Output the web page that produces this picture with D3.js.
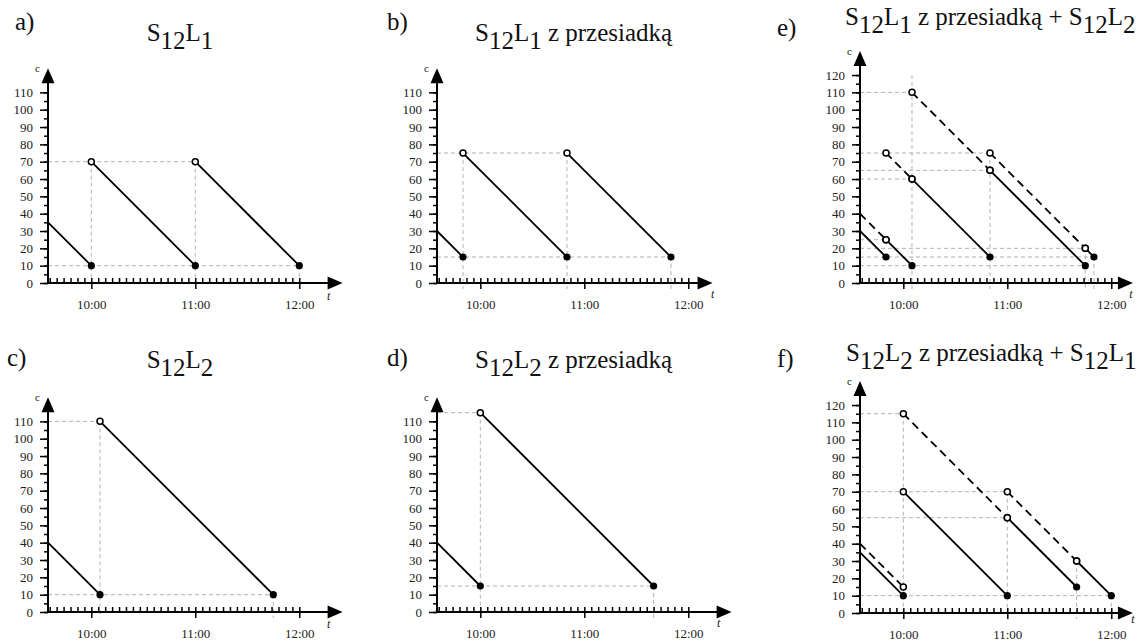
<!DOCTYPE html>
<html>
<head>
<meta charset="utf-8">
<script src="https://cdn.jsdelivr.net/npm/d3@7"></script>
<style>
  html, body { margin: 0; padding: 0; background: #fff; }
  svg { display: block; }
  text { font-family: "Liberation Serif", "Times New Roman", serif; }
</style>
</head>
<body>
<svg id="chart" width="1140" height="643"></svg>
<script>
// time in minutes relative to 10:00, cost c
const hourTicks = [0, 60, 120];
const hourLabels = ['10:00', '11:00', '12:00'];

// segments: [t0, c0, t1, c1]
const solidA = [[-25, 35, 0, 10], [0, 70, 60, 10], [60, 70, 120, 10]];
const solidB = [[-25, 30, -10, 15], [-10, 75, 50, 15], [50, 75, 110, 15]];
const solidC = [[-25, 40, 5, 10], [5, 110, 105, 10]];
const solidD = [[-25, 40, 0, 15], [0, 115, 100, 15]];
const solidE = [[-25, 30, -10, 15], [-10, 25, 5, 10], [5, 60, 50, 15], [50, 65, 105, 10], [105, 20, 110, 15]];
const dashedE = [[-25, 40, -10, 25], [-10, 75, 5, 60], [5, 110, 50, 65], [50, 75, 105, 20]];
const solidF = [[-25, 35, 0, 10], [0, 70, 60, 10], [60, 55, 100, 15], [100, 30, 120, 10]];
const dashedF = [[-25, 40, 0, 15], [0, 115, 60, 55], [60, 70, 100, 30]];

// guide lines: horizontal [c, t right end], vertical [t, c top]
const hGuideA = [[70, 60], [10, 120]];
const vGuideA = [[0, 70], [60, 70], [120, 10]];
const hGuideB = [[75, 50], [15, 110]];
const vGuideB = [[-10, 75], [50, 75], [110, 15]];
const hGuideC = [[110, 5], [10, 105]];
const vGuideC = [[5, 110], [105, 10]];
const hGuideD = [[115, 0], [15, 100]];
const vGuideD = [[0, 115], [100, 15]];
const hGuideE = [[110, 5], [75, 50], [65, 50], [60, 5], [25, -10], [20, 105], [15, 110], [10, 105]];
const vGuideE = [[5, 120], [50, 75], [105, 20], [110, 15]];
const hGuideF = [[115, 0], [70, 60], [55, 60], [10, 120]];
const vGuideF = [[0, 115], [60, 70], [100, 30], [120, 10]];

// titles: [text, subscript?]
const titleA = [['S', 0], ['12', 1], ['L', 0], ['1', 1]];
const titleB = [['S', 0], ['12', 1], ['L', 0], ['1', 1], [' z przesiadką', 0]];
const titleC = [['S', 0], ['12', 1], ['L', 0], ['2', 1]];
const titleD = [['S', 0], ['12', 1], ['L', 0], ['2', 1], [' z przesiadką', 0]];
const titleE = [['S', 0], ['12', 1], ['L', 0], ['1', 1], [' z przesiadką + ', 0], ['S', 0], ['12', 1], ['L', 0], ['2', 1]];
const titleF = [['S', 0], ['12', 1], ['L', 0], ['2', 1], [' z przesiadką + ', 0], ['S', 0], ['12', 1], ['L', 0], ['1', 1]];

const K = 1.733; // px per minute and per unit of c

const panels = [
  { tag: 'a)', ox: 48, oy: 283, yMax: 110, xEnd: 145, solid: solidA, dashed: [], hg: hGuideA, vg: vGuideA,
    title: titleA, tx: 180, ty: 41, anchor: 'middle', lx: 15, ly: 30, tdx: -14, tdy: 17 },
  { tag: 'b)', ox: 437, oy: 283, yMax: 110, xEnd: 134, solid: solidB, dashed: [], hg: hGuideB, vg: vGuideB,
    title: titleB, tx: 475, ty: 41, anchor: 'start', lx: 387, ly: 30, tdx: 0, tdy: 15 },
  { tag: 'e)', ox: 860, oy: 283, yMax: 120, xEnd: 132.5, solid: solidE, dashed: dashedE, hg: hGuideE, vg: vGuideE,
    title: titleE, tx: 845, ty: 25, anchor: 'start', lx: 777, ly: 36, tdx: -2, tdy: 15 },
  { tag: 'c)', ox: 48, oy: 612, yMax: 110, xEnd: 145, solid: solidC, dashed: [], hg: hGuideC, vg: vGuideC,
    title: titleC, tx: 180, ty: 368, anchor: 'middle', lx: 7, ly: 366, tdx: -14, tdy: 16 },
  { tag: 'd)', ox: 437, oy: 612, yMax: 110, xEnd: 145, solid: solidD, dashed: [], hg: hGuideD, vg: vGuideD,
    title: titleD, tx: 475, ty: 368, anchor: 'start', lx: 387, ly: 366, tdx: -13, tdy: 15 },
  { tag: 'f)', ox: 860, oy: 613, yMax: 120, xEnd: 132.5, solid: solidF, dashed: dashedF, hg: hGuideF, vg: vGuideF,
    title: titleF, tx: 846, ty: 361, anchor: 'start', lx: 777, ly: 367, tdx: 0, tdy: 10 }
];

const svg = d3.select('#chart');

function drawTitle(g, parts, x, y, anchor) {
  const t = g.append('text')
    .attr('x', x).attr('y', y)
    .attr('text-anchor', anchor)
    .attr('font-size', 25)
    .style('white-space', 'pre')
    .attr('fill', '#111');
  let cur = 0;
  parts.forEach(([s, sub]) => {
    const off = sub ? 8 : 0;
    t.append('tspan').attr('dy', off - cur).text(s);
    cur = off;
  });
}

panels.forEach(p => {
  const g = svg.append('g');
  const x = d3.scaleLinear().domain([-25, p.xEnd]).range([p.ox, p.ox + (p.xEnd + 25) * K]);
  const y = d3.scaleLinear().domain([0, p.yMax]).range([p.oy, p.oy - p.yMax * K]);
  const tipY = y(p.yMax) - 24;
  const tipX = x(p.xEnd);

  // guides
  g.selectAll('.hg').data(p.hg).enter().append('line')
    .attr('x1', p.ox).attr('x2', d => x(d[1]))
    .attr('y1', d => y(d[0])).attr('y2', d => y(d[0]))
    .attr('stroke', '#b3b3b3').attr('stroke-width', 1).attr('stroke-dasharray', '4,3');
  g.selectAll('.vg').data(p.vg).enter().append('line')
    .attr('x1', d => x(d[0])).attr('x2', d => x(d[0]))
    .attr('y1', d => y(d[1])).attr('y2', p.oy + 6)
    .attr('stroke', '#b3b3b3').attr('stroke-width', 1).attr('stroke-dasharray', '4,3');

  // y axis ticks
  const minorY = d3.range(0, p.yMax + 1, 5);
  const majorY = d3.range(0, p.yMax + 1, 10);
  const gy1 = g.append('g').attr('transform', `translate(${p.ox},0)`)
    .call(d3.axisLeft(y).tickValues(minorY).tickSize(4).tickFormat(''));
  const gy2 = g.append('g').attr('transform', `translate(${p.ox},0)`)
    .call(d3.axisLeft(y).tickValues(majorY).tickSize(8).tickPadding(7));
  // x axis ticks
  const minorX = d3.range(-24, 121, 4);
  const gx1 = g.append('g').attr('transform', `translate(0,${p.oy})`)
    .call(d3.axisTop(x).tickValues(minorX).tickSize(5).tickFormat(''));
  const gx2 = g.append('g').attr('transform', `translate(0,${p.oy})`)
    .call(d3.axisBottom(x).tickValues(hourTicks).tickSize(6).tickPadding(11)
      .tickFormat((d, i) => hourLabels[i]));
  [gy1, gy2, gx1, gx2].forEach(a => {
    a.select('.domain').remove();
    a.selectAll('line').attr('stroke', '#000').attr('stroke-width', 1.5);
    a.selectAll('text').attr('font-family', '"Liberation Serif", "Times New Roman", serif')
      .attr('font-size', 13).attr('fill', '#222');
  });

  // axis lines + arrows
  g.append('line').attr('x1', p.ox).attr('x2', p.ox).attr('y1', p.oy + 1).attr('y2', tipY + 10)
    .attr('stroke', '#000').attr('stroke-width', 2);
  g.append('line').attr('x1', p.ox - 1).attr('x2', tipX - 10).attr('y1', p.oy).attr('y2', p.oy)
    .attr('stroke', '#000').attr('stroke-width', 2);
  g.append('path').attr('d', `M${p.ox},${tipY} L${p.ox - 6.5},${tipY + 15} L${p.ox + 6.5},${tipY + 15} Z`).attr('fill', '#000');
  g.append('path').attr('d', `M${tipX},${p.oy} L${tipX - 15},${p.oy - 6.5} L${tipX - 15},${p.oy + 6.5} Z`).attr('fill', '#000');

  g.append('text').attr('x', p.ox - 8).attr('y', tipY + 4).attr('text-anchor', 'end')
    .attr('font-size', 11).attr('fill', '#222').text('c');
  g.append('text').attr('x', tipX + p.tdx).attr('y', p.oy + p.tdy).attr('text-anchor', 'middle')
    .attr('font-size', 12).attr('font-style', 'italic').attr('fill', '#222').text('t');

  // series lines
  g.selectAll('.ds').data(p.dashed).enter().append('line')
    .attr('x1', d => x(d[0])).attr('y1', d => y(d[1]))
    .attr('x2', d => x(d[2])).attr('y2', d => y(d[3]))
    .attr('stroke', '#000').attr('stroke-width', 1.8).attr('stroke-dasharray', '8,5');
  g.selectAll('.ss').data(p.solid).enter().append('line')
    .attr('x1', d => x(d[0])).attr('y1', d => y(d[1]))
    .attr('x2', d => x(d[2])).attr('y2', d => y(d[3]))
    .attr('stroke', '#000').attr('stroke-width', 1.8);

  // points
  const open = [];
  p.dashed.forEach(d => { if (d[0] > -25) open.push([d[0], d[1]]); open.push([d[2], d[3]]); });
  p.solid.forEach(d => { if (d[0] > -25) open.push([d[0], d[1]]); });
  const filled = p.solid.map(d => [d[2], d[3]]);
  g.selectAll('.op').data(open).enter().append('circle')
    .attr('cx', d => x(d[0])).attr('cy', d => y(d[1])).attr('r', 3)
    .attr('fill', '#fff').attr('stroke', '#000').attr('stroke-width', 1.5);
  g.selectAll('.fp').data(filled).enter().append('circle')
    .attr('cx', d => x(d[0])).attr('cy', d => y(d[1])).attr('r', 3.6)
    .attr('fill', '#000');

  // labels
  g.append('text').attr('x', p.lx).attr('y', p.ly).attr('font-size', 25).attr('fill', '#111').text(p.tag);
  drawTitle(g, p.title, p.tx, p.ty, p.anchor);
});
</script>
</body>
</html>
